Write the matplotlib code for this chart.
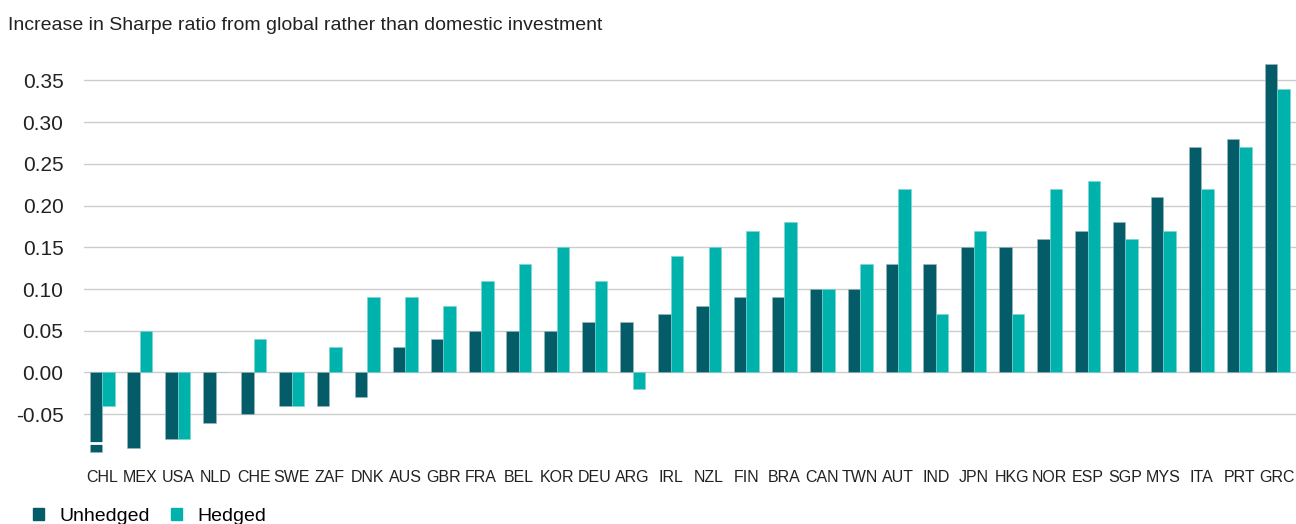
import matplotlib.pyplot as plt
import numpy as np
from matplotlib.patches import Patch

plt.rcParams["font.family"] = ["Liberation Sans", "DejaVu Sans"]

countries = ["CHL", "MEX", "USA", "NLD", "CHE", "SWE", "ZAF", "DNK", "AUS", "GBR",
             "FRA", "BEL", "KOR", "DEU", "ARG", "IRL", "NZL", "FIN", "BRA", "CAN",
             "TWN", "AUT", "IND", "JPN", "HKG", "NOR", "ESP", "SGP", "MYS", "ITA",
             "PRT", "GRC"]
unhedged = [-0.095, -0.09, -0.08, -0.06, -0.05, -0.04, -0.04, -0.03, 0.03, 0.04,
            0.05, 0.05, 0.05, 0.06, 0.06, 0.07, 0.08, 0.09, 0.09, 0.10,
            0.10, 0.13, 0.13, 0.15, 0.15, 0.16, 0.17, 0.18, 0.21, 0.27,
            0.28, 0.37]
hedged = [-0.04, 0.05, -0.08, 0.0, 0.04, -0.04, 0.03, 0.09, 0.09, 0.08,
          0.11, 0.13, 0.15, 0.11, -0.02, 0.14, 0.15, 0.17, 0.18, 0.10,
          0.13, 0.22, 0.07, 0.17, 0.07, 0.22, 0.23, 0.16, 0.17, 0.22,
          0.27, 0.34]
yticks = [-0.05, 0.0, 0.05, 0.10, 0.15, 0.20, 0.25, 0.30, 0.35]
# CHL unhedged bar is drawn broken (axis-break mark)
break_country = "CHL"
break_value = -0.084

dark = "#035C67"
light = "#00B2AC"

fig = plt.figure(figsize=(12.96, 5.24), dpi=100)
ax = fig.add_axes([0.065, 0.13, 0.935, 0.796])

x = np.arange(len(countries))
w = 0.33
bars_u = ax.bar(x - w / 2, unhedged, w, color=dark, edgecolor="#9fb9bd", linewidth=0.4, zorder=3)
ax.bar(x + w / 2, hedged, w, color=light, edgecolor="#7fd3cf", linewidth=0.4, zorder=3)

# white gap across the broken bar
p = bars_u[countries.index(break_country)]
ax.hlines(break_value, p.get_x() - 0.02, p.get_x() + p.get_width() + 0.02,
          color="white", linewidth=2, zorder=4)

ax.set_xlim(-0.47, len(countries) - 0.5)
ax.set_ylim(-0.1, 0.4)
ax.set_yticks(yticks)
ax.set_yticklabels([f"{v:.2f}" for v in yticks], fontsize=15, color="#222222")
ax.set_xticks(x)
ax.set_xticklabels(countries, fontsize=11.5, color="#222222")
ax.tick_params(axis="both", length=0)
ax.tick_params(axis="y", pad=15)
ax.tick_params(axis="x", pad=10)
ax.grid(axis="y", color="#cccccc", linewidth=1.0, zorder=0)
for s in ax.spines.values():
    s.set_visible(False)

fig.text(0.006, 0.952, "Increase in Sharpe ratio from global rather than domestic investment",
         fontsize=14, color="#222222", va="center")

handles = [Patch(color=dark, label="Unhedged"), Patch(color=light, label="Hedged")]
fig.legend(handles=handles, loc="lower left", bbox_to_anchor=(0.012, -0.035), ncol=2,
           frameon=False, fontsize=14, handlelength=0.55, handleheight=0.55,
           handletextpad=0.8, columnspacing=1.1)

fig.savefig("out.png", dpi=100)
